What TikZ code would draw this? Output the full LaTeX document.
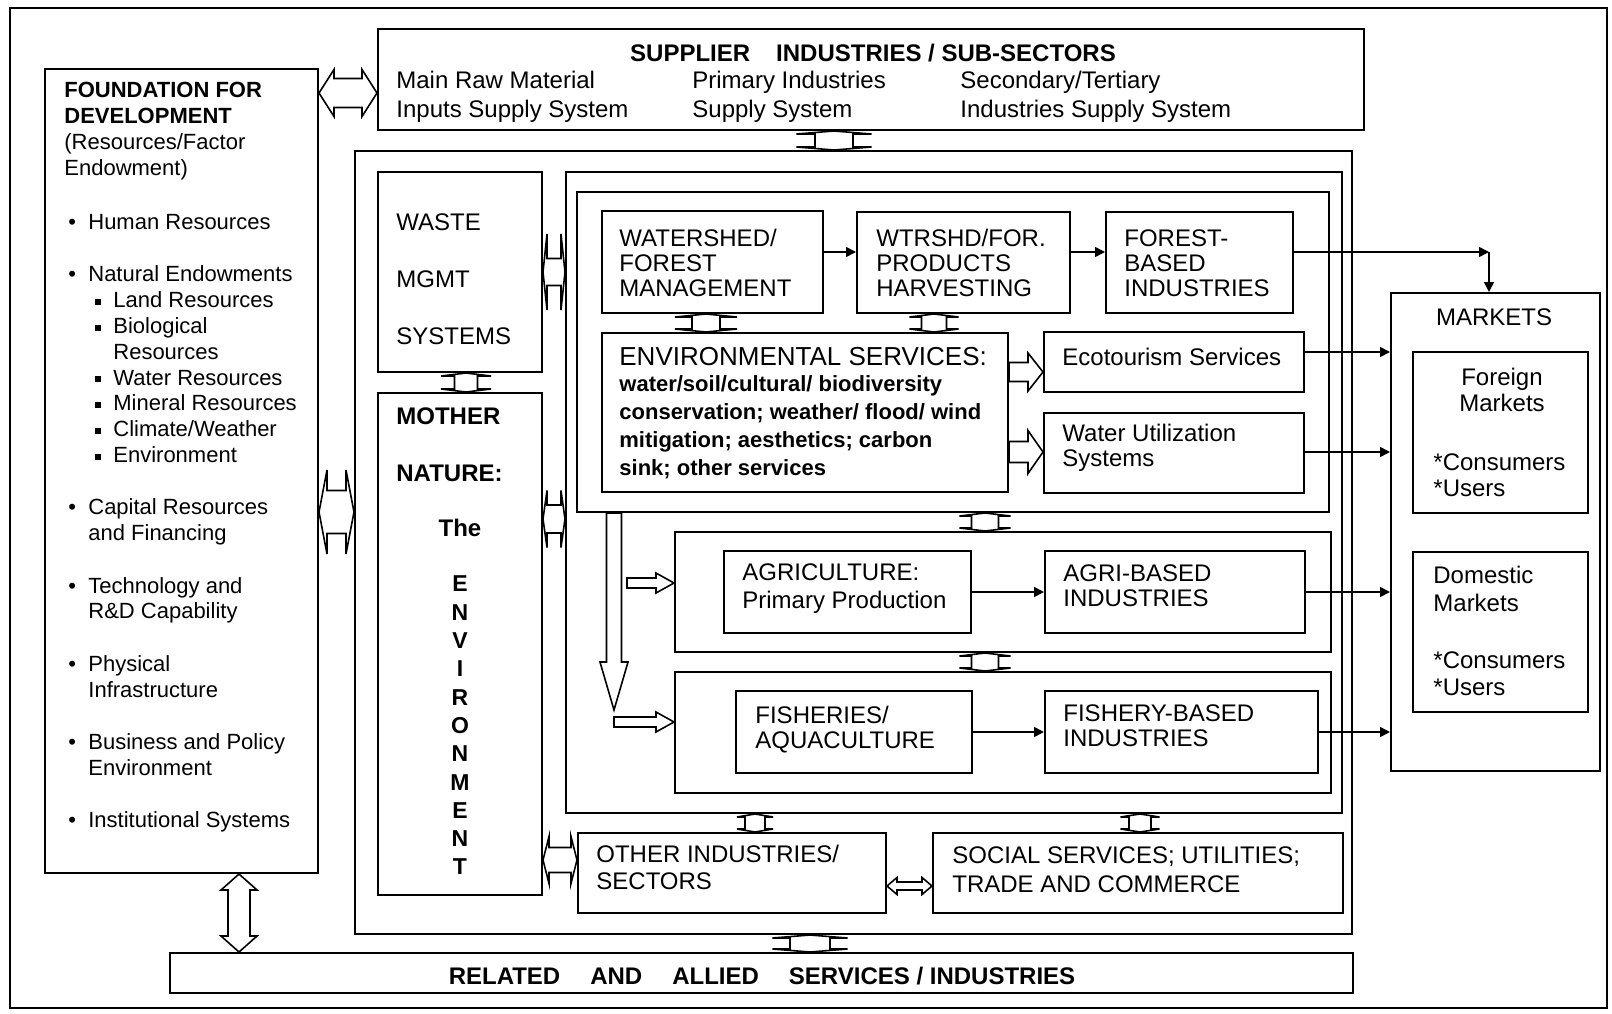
\documentclass[tikz,border=0pt]{standalone}
\usepackage{fontspec}
\setmainfont{Liberation Sans}
\usetikzlibrary{arrows.meta,calc,fit}

\newcommand{\fbul}{\makebox[10pt][l]{\textbullet}}
\newcommand{\fsub}{\hspace*{13.5pt}\makebox[9pt][l]{\rule[1.5pt]{3pt}{3pt}}}

\tikzset{
    box/.style={draw, line width=1pt, inner sep=0pt},
    txt/.style={anchor=west, inner sep=0pt, align=left},
    link/.style={line width=0.8pt, -{Triangle[length=5pt,width=5pt]}},
    hollow/.style={draw, fill=white, line width=0.8pt},
    % hollow double arrow: half stem, half head, head length
    dblh/.style n args={3}{hollow, to path={let \p1=(\tikztostart), \p2=(\tikztotarget) in
        (\x1,\y1) -- (\x1+#3,\y1+#2) -- (\x1+#3,\y1+#1) -- (\x2-#3,\y1+#1) -- (\x2-#3,\y1+#2) -- (\x2,\y1)
        -- (\x2-#3,\y1-#2) -- (\x2-#3,\y1-#1) -- (\x1+#3,\y1-#1) -- (\x1+#3,\y1-#2) -- cycle}},
    dblv/.style n args={3}{hollow, to path={let \p1=(\tikztostart), \p2=(\tikztotarget) in
        (\x1,\y1) -- (\x1+#2,\y1-#3) -- (\x1+#1,\y1-#3) -- (\x1+#1,\y2+#3) -- (\x1+#2,\y2+#3) -- (\x1,\y2)
        -- (\x1-#2,\y2+#3) -- (\x1-#1,\y2+#3) -- (\x1-#1,\y1-#3) -- (\x1-#2,\y1-#3) -- cycle}},
    % hollow single arrow
    sglh/.style n args={3}{hollow, to path={let \p1=(\tikztostart), \p2=(\tikztotarget) in
        (\x1,\y1+#1) -- (\x2-#3,\y1+#1) -- (\x2-#3,\y1+#2) -- (\x2,\y1)
        -- (\x2-#3,\y1-#2) -- (\x2-#3,\y1-#1) -- (\x1,\y1-#1) -- cycle}},
    sglv/.style n args={3}{hollow, to path={let \p1=(\tikztostart), \p2=(\tikztotarget) in
        (\x1-#1,\y1) -- (\x1+#1,\y1) -- (\x1+#1,\y2+#3) -- (\x1+#2,\y2+#3) -- (\x1,\y2)
        -- (\x1-#2,\y2+#3) -- (\x1-#1,\y2+#3) -- cycle}},
}

\begin{document}
\begin{tikzpicture}[x=0.5pt, y=-0.5pt, font=\fontsize{12}{12.5}\selectfont]
    \useasboundingbox (0,0) rectangle (1612,1013);
    \draw[line width=1pt] (10,8) rectangle (1607,1008);

    % Boxes
    \node[box, fit={(45,69) (318,873)}] (found) {};
    \node[box, fit={(378,29) (1364,130)}] (sup) {};
    \node[box, fit={(355,151) (1352,934)}] (big) {};
    \node[box, fit={(378,172) (542,372)}] (waste) {};
    \node[box, fit={(378,393) (542,895)}] (mother) {};
    \node[box, fit={(566,172) (1342,813)}] (inner) {};
    \node[box, fit={(577,192) (1329,512)}] (forest) {};
    \node[box, fit={(602,211) (823,313)}] (ws) {};
    \node[box, fit={(857,212) (1070,313)}] (wtr) {};
    \node[box, fit={(1106,212) (1293,313)}] (fb) {};
    \node[box, fit={(602,333) (1008,492)}] (env) {};
    \node[box, fit={(1044,332) (1304,392)}] (eco) {};
    \node[box, fit={(1044,413) (1304,493)}] (water) {};
    \node[box, fit={(675,532) (1331,652)}] (agfr) {};
    \node[box, fit={(724,551) (971,633)}] (agr) {};
    \node[box, fit={(1045,551) (1305,633)}] (agrb) {};
    \node[box, fit={(675,672) (1331,793)}] (fifr) {};
    \node[box, fit={(736,691) (972,773)}] (fis) {};
    \node[box, fit={(1045,691) (1318,773)}] (fisb) {};
    \node[box, fit={(578,833) (886,913)}] (other) {};
    \node[box, fit={(933,833) (1343,913)}] (social) {};
    \node[box, fit={(170,953) (1353,993)}] (rel) {};
    \node[box, fit={(1391,293) (1600,771)}] (mkt) {};
    \node[box, fit={(1413,352) (1588,513)}] (fm) {};
    \node[box, fit={(1413,552) (1588,712)}] (dm) {};

    % Foundation
    \node[txt, anchor=north west, font=\fontsize{11}{13}\selectfont] (foundT) at (64,82)
        {\textbf{FOUNDATION FOR}\\\textbf{DEVELOPMENT}\\(Resources/Factor\\Endowment)};
    \node[txt, anchor=north west, font=\fontsize{11}{12.9}\selectfont] (foundL) at (68,214) {%
        \fbul Human Resources\\[13.3pt]
        \fbul Natural Endowments\\
        \fsub Land Resources\\
        \fsub Biological\\
        \hspace*{22.5pt}Resources\\
        \fsub Water Resources\\
        \fsub Mineral Resources\\
        \fsub Climate/Weather\\
        \fsub Environment\\[13.3pt]
        \fbul Capital Resources\\
        \hspace*{10pt}and Financing\\[13.3pt]
        \fbul Technology and\\
        \hspace*{10pt}R\&D Capability\\[13.3pt]
        \fbul Physical\\
        \hspace*{10pt}Infrastructure\\[13.3pt]
        \fbul Business and Policy\\
        \hspace*{10pt}Environment\\[13.3pt]
        \fbul Institutional Systems};

    % Supplier industries
    \node[font=\bfseries\fontsize{12}{13}\selectfont, inner sep=0pt] (supT) at (873,53)
        {SUPPLIER\hspace{13pt}INDUSTRIES / SUB-SECTORS};
    \node[txt, font=\fontsize{12}{14.5}\selectfont] (sup1) at (396,96.5) {Main Raw Material\\Inputs Supply System};
    \node[txt, font=\fontsize{12}{14.5}\selectfont] (sup2) at (692,96.5) {Primary Industries\\Supply System};
    \node[txt, font=\fontsize{12}{14.5}\selectfont] (sup3) at (960,96.5) {Secondary/Tertiary\\Industries Supply System};

    % Waste and mother nature
    \node[txt, font=\fontsize{12}{28.5}\selectfont] (wasteT) at (396,279) {WASTE\\MGMT\\SYSTEMS};
    \node[txt, font=\bfseries\fontsize{12}{28.5}\selectfont] (motherT) at (396,444.5) {MOTHER\\NATURE:};
    \node[font=\bfseries\fontsize{12}{12.5}\selectfont, inner sep=0pt] (theT) at (460,528) {The};
    \node[font=\bfseries\fontsize{11.5}{14.15}\selectfont, align=center, inner sep=0pt] (envW) at (460,725.5)
        {E\\N\\V\\I\\R\\O\\N\\M\\E\\N\\T};

    % Forest layer
    \node[txt] (wsT) at (619,263) {WATERSHED/\\FOREST\\MANAGEMENT};
    \node[txt] (wtrT) at (876,263) {WTRSHD/FOR.\\PRODUCTS\\HARVESTING};
    \node[txt] (fbT) at (1124,263) {FOREST-\\BASED\\INDUSTRIES};
    \node[txt, font=\fontsize{13}{14}\selectfont] (envT) at (619,357) {ENVIRONMENTAL SERVICES:};
    \node[txt, font=\bfseries\fontsize{11}{14}\selectfont] (envB) at (619,427)
        {water/soil/cultural/ biodiversity\\conservation; weather/ flood/ wind\\mitigation; aesthetics; carbon\\sink; other services};
    \node[txt] (ecoT) at (1062,357) {Ecotourism Services};
    \node[txt] (waterT) at (1062,447.5) {Water Utilization\\Systems};

    % Agriculture and fisheries
    \node[txt, font=\fontsize{12}{14}\selectfont] (agrT) at (742,589) {AGRICULTURE:\\Primary Production};
    \node[txt] (agrbT) at (1063,585.5) {AGRI-BASED\\INDUSTRIES};
    \node[txt] (fisT) at (755,729.5) {FISHERIES/\\AQUACULTURE};
    \node[txt] (fisbT) at (1063,725.5) {FISHERY-BASED\\INDUSTRIES};

    % Other sectors
    \node[txt, font=\fontsize{12}{13.5}\selectfont] (otherT) at (596,867.5) {OTHER INDUSTRIES/\\SECTORS};
    \node[txt, font=\fontsize{12}{14.5}\selectfont] (socialT) at (952,869.5) {SOCIAL SERVICES; UTILITIES;\\TRADE AND COMMERCE};
    \node[font=\bfseries\fontsize{12}{12.5}\selectfont, inner sep=0pt] (relT) at (762,976)
        {RELATED\hspace{15pt}AND\hspace{15pt}ALLIED\hspace{15pt}SERVICES / INDUSTRIES};

    % Markets
    \node[inner sep=0pt] (mktT) at (1494,317) {MARKETS};
    \node[align=center, inner sep=0pt, font=\fontsize{12}{13}\selectfont] (fmT) at (1502,390) {Foreign\\Markets};
    \node[txt, font=\fontsize{12}{13}\selectfont] (fmU) at (1433,475) {*Consumers\\*Users};
    \node[txt, font=\fontsize{12}{14}\selectfont] (dmT) at (1433,589) {Domestic\\Markets};
    \node[txt, font=\fontsize{12}{13.5}\selectfont] (dmU) at (1433,673.5) {*Consumers\\*Users};

    % Hollow connectors
    \draw[dblh={7.25pt}{11.75pt}{7.5pt}] (found.east |- 0,93) to (sup.west |- 0,93);
    \draw[dblh={10.75pt}{21pt}{4pt}] (found.east |- 0,512) to (big.west |- 0,512);
    \draw[dblh={6.75pt}{19pt}{2pt}] (waste.east |- 0,272) to (inner.west |- 0,272);
    \draw[dblh={7pt}{14.25pt}{2pt}] (mother.east |- 0,519) to (inner.west |- 0,519);
    \draw[dblh={6.25pt}{11.75pt}{3pt}] (mother.east |- 0,860) to (other.west |- 0,860);
    \draw[dblh={2pt}{4.25pt}{5pt}] (other.east |- 0,886) to (social.west |- 0,886);
    \draw[dblv={5.5pt}{9pt}{8pt}] (found.south -| 239,0) to (rel.north -| 239,0);

    \draw[dblv={9.5pt}{18.75pt}{1.5pt}] (sup.south -| 834,0) to (big.north -| 834,0);
    \draw[dblv={5.75pt}{12.5pt}{1.5pt}] (waste.south -| 466,0) to (mother.north -| 466,0);
    \draw[dblv={7pt}{15.5pt}{1.5pt}] (ws.south -| 706,0) to (env.north -| 706,0);
    \draw[dblv={6.25pt}{12.25pt}{1.5pt}] (wtr.south -| 934,0) to (env.north -| 934,0);
    \draw[dblv={6.75pt}{12.75pt}{1.5pt}] (forest.south -| 985,0) to (agfr.north -| 985,0);
    \draw[dblv={6.75pt}{12.75pt}{1.5pt}] (agfr.south -| 985,0) to (fifr.north -| 985,0);
    \draw[dblv={5pt}{9pt}{1.5pt}] (inner.south -| 755,0) to (other.north -| 755,0);
    \draw[dblv={5.5pt}{9.75pt}{1.5pt}] (inner.south -| 1140,0) to (social.north -| 1140,0);
    \draw[dblv={10pt}{18.75pt}{1.5pt}] (big.south -| 810,0) to (rel.north -| 810,0);

    \draw[sglh={4.75pt}{9.5pt}{7.5pt}] (env.east |- 0,372) to (eco.west |- 0,372);
    \draw[sglh={5.25pt}{10.75pt}{7.5pt}] (env.east |- 0,452) to (water.west |- 0,452);
    \coordinate (dtip) at (614,710);
    \draw[sglv={3.75pt}{7pt}{24pt}] (forest.south -| dtip) to (dtip);
    \coordinate (atail) at (627,583);
    \draw[sglh={2.5pt}{5pt}{9pt}] (atail) to (agfr.west |- atail);
    \coordinate (ftail) at (614,722);
    \draw[sglh={2.5pt}{5pt}{9pt}] (ftail) to (fifr.west |- ftail);

    % Arrows
    \draw[link] (ws.east |- 0,252) -- (wtr.west |- 0,252);
    \draw[link] (wtr.east |- 0,252) -- (fb.west |- 0,252);
    \coordinate (mcorner) at (1489,252);
    \draw[link] (fb.east |- mcorner) -- (mcorner);
    \draw[link] (mcorner) -- (mcorner |- mkt.north);
    \draw[link] (eco.east |- 0,352) -- (mkt.west |- 0,352);
    \draw[link] (water.east |- 0,452) -- (mkt.west |- 0,452);
    \draw[link] (agr.east |- 0,592) -- (agrb.west |- 0,592);
    \draw[link] (agrb.east |- 0,592) -- (mkt.west |- 0,592);
    \draw[link] (fis.east |- 0,732) -- (fisb.west |- 0,732);
    \draw[link] (fisb.east |- 0,732) -- (mkt.west |- 0,732);
\end{tikzpicture}
\end{document}
